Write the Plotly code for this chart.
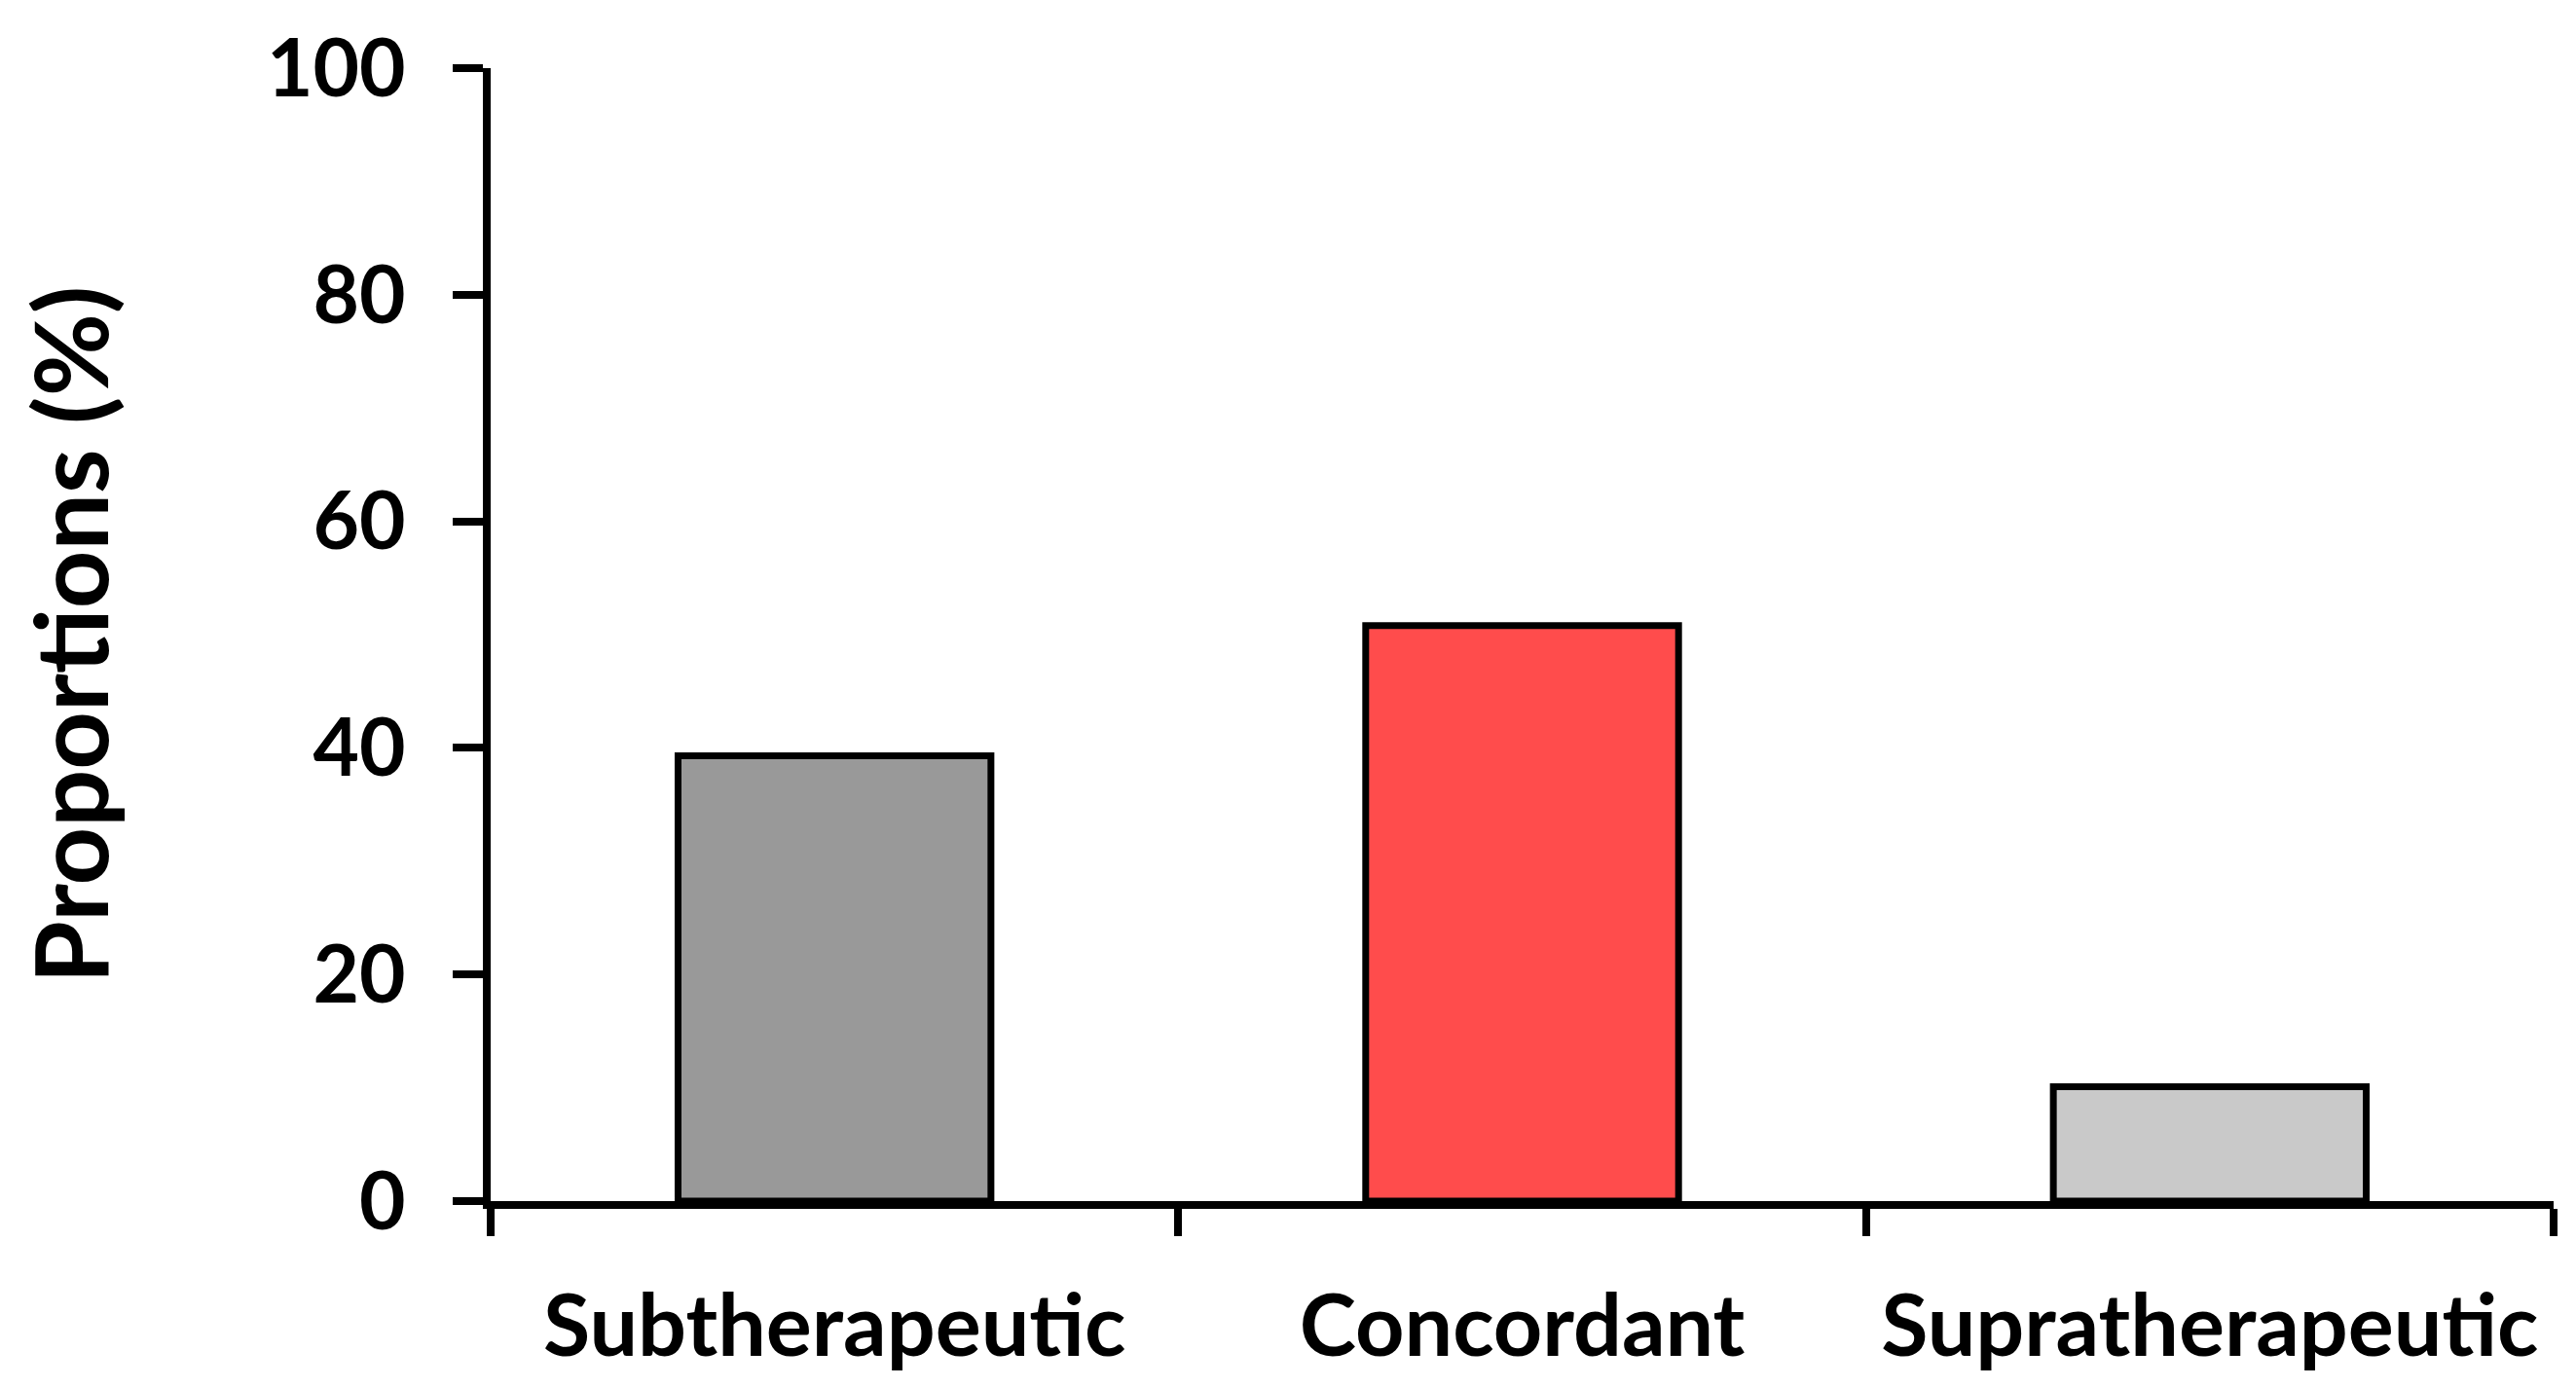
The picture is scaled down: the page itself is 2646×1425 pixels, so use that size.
import plotly.graph_objects as go

categories = ["Subtherapeutic", "Concordant", "Supratherapeutic"]
proportions = [39.3, 50.8, 10.1]
bar_colors = ["#999999", "#FF4C4C", "#C9C9C9"]
y_tick_values = [0, 20, 40, 60, 80, 100]
y_title = "Proportions (%)"

FONT = "Lato"

fig = go.Figure(
    go.Bar(
        x=categories,
        y=proportions,
        width=0.455,
        marker=dict(color=bar_colors, line=dict(color="black", width=7)),
    )
)

fig.update_layout(
    width=2646,
    height=1425,
    paper_bgcolor="white",
    plot_bgcolor="white",
    showlegend=False,
    margin=dict(l=496, r=31, t=62, b=199),
    font=dict(family=FONT, color="black"),
)

fig.update_xaxes(
    showline=True,
    linecolor="black",
    linewidth=8,
    ticks="outside",
    tickson="boundaries",
    ticklen=28,
    tickwidth=8,
    tickcolor="black",
    tickangle=0,
    automargin=False,
    tickfont=dict(family=FONT, size=88, color="black", weight="bold"),
    ticklabelstandoff=45,
    showgrid=False,
    zeroline=False,
)

fig.update_yaxes(
    range=[0, 100],
    tickvals=y_tick_values,
    showline=True,
    linecolor="black",
    linewidth=8,
    ticks="outside",
    ticklen=31,
    tickwidth=8,
    tickcolor="black",
    automargin=False,
    tickfont=dict(family=FONT, size=82, color="black", weight="bold"),
    ticklabelstandoff=32,
    showgrid=False,
    zeroline=False,
    title=dict(text=y_title, font=dict(family=FONT, size=104, color="black", weight="bold"), standoff=135),
)

fig.write_html("out.html")
